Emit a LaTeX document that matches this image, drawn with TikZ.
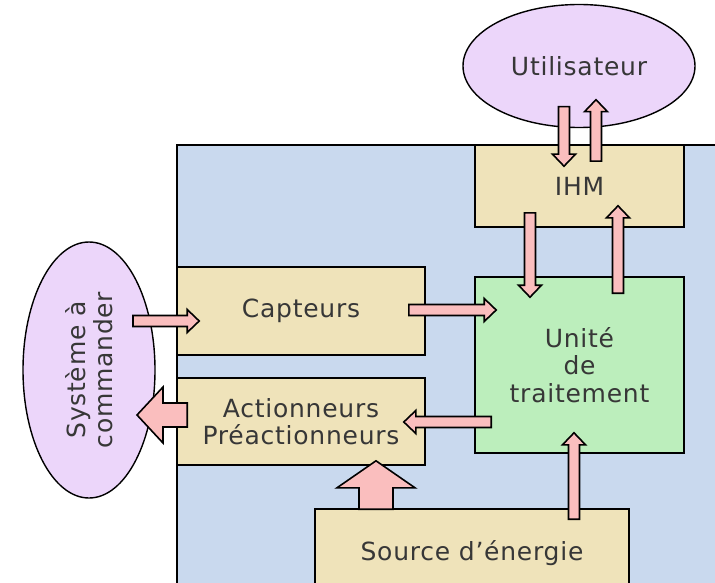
\documentclass[tikz,border=0pt]{standalone}
\usepackage{fontspec}
\setmainfont{DejaVu Sans}[LetterSpace=3]
\usetikzlibrary{shapes.geometric,calc}
\definecolor{fondbleu}{RGB}{201,217,238}
\definecolor{beige}{RGB}{239,227,186}
\definecolor{vert}{RGB}{188,238,188}
\definecolor{mauve}{RGB}{236,214,250}
\definecolor{rose}{RGB}{250,190,190}
\definecolor{texte}{RGB}{55,55,55}
\tikzset{
  bloc/.style={draw, line width=1.6pt, fill=beige, inner sep=0pt, align=center,
    text=texte, font=\fontsize{25}{27.5}\selectfont},
  ovale/.style={bloc, ellipse, fill=mauve, line width=1.4pt},
  corps/.style={draw, line width=1.6pt, fill=rose, line join=miter}
}
% #1 queue, #2 pointe, #3 demi-largeur du corps, #4 demi-largeur de la tete, #5 longueur de la tete
\newcommand\fleche[5]{%
  \path[corps] let \p1=#1, \p2=#2, \n1={veclen(\x2-\x1,\y2-\y1)},
      \n2={(\x2-\x1)/(\n1)}, \n3={(\y2-\y1)/(\n1)} in
    ({\x1-#3*\n3},{\y1+#3*\n2}) -- ({\x2-#5*\n2-#3*\n3},{\y2-#5*\n3+#3*\n2})
    -- ({\x2-#5*\n2-#4*\n3},{\y2-#5*\n3+#4*\n2}) -- (\p2)
    -- ({\x2-#5*\n2+#4*\n3},{\y2-#5*\n3-#4*\n2}) -- ({\x2-#5*\n2+#3*\n3},{\y2-#5*\n3-#3*\n2})
    -- ({\x1+#3*\n3},{\y1-#3*\n2}) -- cycle;}
\begin{document}
\begin{tikzpicture}[x=1pt, y=-1pt]
  \clip (0,0) rectangle (715,583);
  \fill[white] (0,0) rectangle (715,583);
  \draw[line width=1.6pt, fill=fondbleu] (177,145) rectangle (760,640);

  \node[bloc, minimum width=209pt, minimum height=82pt] (ihm) at (579.5,186) {IHM};
  \node[bloc, fill=vert, minimum width=209pt, minimum height=176pt] (unite) at (579.5,365) {Unité\\de\\traitement};
  \node[bloc, minimum width=248pt, minimum height=88pt] (capt) at (301,311) {Capteurs};
  \node[bloc, minimum width=248pt, minimum height=87pt] (act) at (301,421.5) {Actionneurs\\Préactionneurs};
  \node[bloc, minimum width=314pt, minimum height=88pt] (src) at (472,553) {Source d’énergie};
  \node[ovale, minimum width=232pt, minimum height=123pt] (util) at (579,66) {Utilisateur};
  \node[ovale, rotate=90, minimum width=256pt, minimum height=132pt] (sys) at (89,370) {Système à\\commander};

  \fleche{($(util.south)+(-15,-21.5)$)}{($(ihm.north)+(-15.5,22)$)}{5.5}{11.5}{12}
  \fleche{($(ihm.north)+(16.5,17)$)}{($(util.south)+(17,-28.5)$)}{5.5}{11.5}{12}
  \fleche{($(ihm.south)+(-49.5,-15)$)}{($(unite.north)+(-49.5,21)$)}{5.5}{11.5}{12}
  \fleche{($(unite.north)+(38.5,17)$)}{($(ihm.south)+(38.5,-22)$)}{5.5}{11.5}{12}
  \fleche{($(sys.center)+(44,-49)$)}{($(capt.west)+(23,10)$)}{5.5}{11.5}{12}
  \fleche{($(capt.east)+(-17,-1)$)}{($(unite.west)+(22,-55)$)}{5.5}{11.5}{12}
  \fleche{($(unite.west)+(17,57)$)}{($(act.east)+(-22,0.5)$)}{5.5}{11.5}{12}
  \fleche{($(src.north)+(102,11)$)}{($(unite.south)+(-5.5,-21)$)}{5.5}{11.5}{12}
  \fleche{($(act.west)+(11,-6.5)$)}{($(sys.center)+(48,45)$)}{12}{28}{26}
  \fleche{($(src.north)+(-96,1)$)}{($(act.south)+(75,-5)$)}{17}{39}{27}
\end{tikzpicture}
\end{document}
